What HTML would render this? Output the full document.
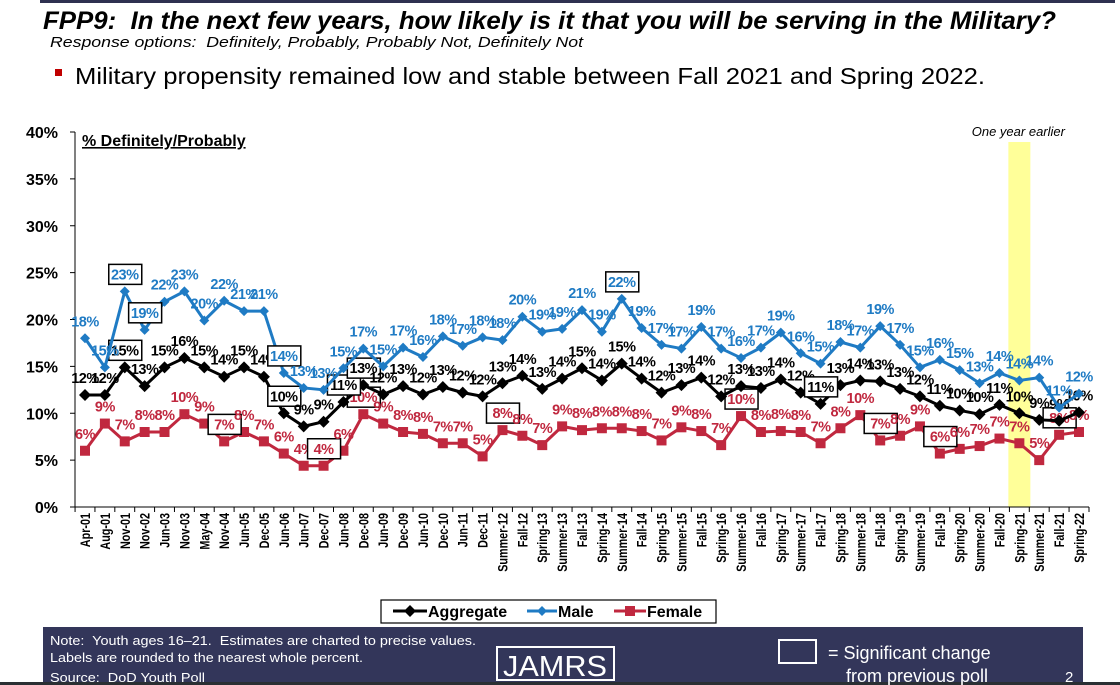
<!DOCTYPE html>
<html><head><meta charset="utf-8"><style>
body{margin:0;background:#fff;}
#wrap{position:relative;width:1120px;height:685px;overflow:hidden;font-family:"Liberation Sans",Arial,sans-serif;}
svg text{white-space:pre;}
</style></head><body>
<div id="wrap">
<svg id="chart" width="1120" height="685" xmlns="http://www.w3.org/2000/svg">
<rect x="40" y="0" width="1075" height="3" fill="#2e3150"/>
<text x="43" y="29" font-size="25" font-weight="bold" font-style="italic" textLength="1013" lengthAdjust="spacingAndGlyphs">FPP9:  In the next few years, how likely is it that you will be serving in the Military?</text>
<text x="50" y="47" font-size="15" font-style="italic" textLength="533" lengthAdjust="spacingAndGlyphs">Response options:  Definitely, Probably, Probably Not, Definitely Not</text>
<rect x="55" y="69" width="7" height="7" fill="#c00000"/>
<text x="75" y="84" font-size="23.5" textLength="910" lengthAdjust="spacingAndGlyphs">Military propensity remained low and stable between Fall 2021 and Spring 2022.</text>
<g id="plot"></g>
<g>
<rect x="381" y="600" width="335" height="23" fill="#fff" stroke="#000" stroke-width="1.2"/>
<line x1="393" y1="611" x2="427" y2="611" stroke="#000" stroke-width="3"/><path d="M410 605 L416 611 L410 617 L404 611Z" fill="#000"/>
<text x="428" y="617" font-size="16" font-weight="bold">Aggregate</text>
<line x1="527" y1="611" x2="557" y2="611" stroke="#1f7bc4" stroke-width="3"/><path d="M542 606 L547 611 L542 616 L537 611Z" fill="#1f7bc4"/>
<text x="558" y="617" font-size="16" font-weight="bold">Male</text>
<line x1="614" y1="611" x2="646" y2="611" stroke="#c0283f" stroke-width="3"/><rect x="625" y="606" width="10" height="10" fill="#c0283f"/>
<text x="647" y="617" font-size="16" font-weight="bold">Female</text>
</g>
<rect x="43" y="627" width="1040" height="58" fill="#33365a"/>
<rect x="0" y="682" width="1120" height="3" fill="#2a2f33"/>
<text x="50" y="645" font-size="13" fill="#fff" textLength="426" lengthAdjust="spacingAndGlyphs">Note:  Youth ages 16–21.  Estimates are charted to precise values.</text>
<text x="50" y="662" font-size="13" fill="#fff" textLength="313" lengthAdjust="spacingAndGlyphs">Labels are rounded to the nearest whole percent.</text>
<text x="50" y="682" font-size="13" fill="#fff" textLength="155" lengthAdjust="spacingAndGlyphs">Source:  DoD Youth Poll</text>
<rect x="497" y="647" width="117" height="33" fill="none" stroke="#fff" stroke-width="2"/>
<text x="555" y="676" font-size="29" fill="#fff" text-anchor="middle" textLength="104" lengthAdjust="spacingAndGlyphs">JAMRS</text>
<rect x="779" y="640" width="37" height="23" fill="none" stroke="#fff" stroke-width="2"/>
<text x="828" y="659" font-size="18" fill="#fff">= Significant change</text>
<text x="846" y="682" font-size="18" fill="#fff">from previous poll</text>
<text x="1065" y="682" font-size="15" fill="#fff">2</text>
</svg>
</div>
<script>
const categories=["Apr-01","Aug-01","Nov-01","Nov-02","Jun-03","Nov-03","May-04","Nov-04","Jun-05","Dec-05","Jun-06","Jun-07","Dec-07","Jun-08","Dec-08","Jun-09","Dec-09","Jun-10","Dec-10","Jun-11","Dec-11","Summer-12","Fall-12","Spring-13","Summer-13","Fall-13","Spring-14","Summer-14","Fall-14","Spring-15","Summer-15","Fall-15","Spring-16","Summer-16","Fall-16","Spring-17","Summer-17","Fall-17","Spring-18","Summer-18","Fall-18","Spring-19","Summer-19","Fall-19","Spring-20","Summer-20","Fall-20","Spring-21","Summer-21","Fall-21","Spring-22"];
const aggregate=[11.95,11.95,14.9,12.9,14.9,15.9,14.9,13.9,14.9,13.9,10.0,8.6,9.1,11.2,13.0,12.0,12.9,12.0,12.8,12.2,11.8,13.2,14.0,12.6,13.7,14.8,13.5,15.3,13.7,12.2,13.0,13.8,11.8,12.9,12.7,13.6,12.2,11.0,13.0,13.5,13.4,12.6,11.8,10.8,10.3,9.9,10.9,10.0,9.3,9.2,10.1];
const male=[18.0,14.9,23.0,18.9,21.9,23.0,19.9,22.0,20.9,20.9,14.3,12.7,12.5,14.8,16.9,15.0,17.0,16.0,18.2,17.2,18.1,17.8,20.3,18.7,19.0,21.0,18.7,22.2,19.1,17.3,16.9,19.2,16.9,15.9,17.0,18.6,16.4,15.3,17.6,17.0,19.3,17.3,14.9,15.7,14.6,13.2,14.3,13.5,13.8,10.6,12.1];
const female=[6.0,8.9,7.0,8.0,8.0,9.9,8.9,7.0,8.0,7.0,5.7,4.4,4.4,6.0,9.9,8.9,8.0,7.8,6.8,6.8,5.4,8.2,7.6,6.6,8.6,8.2,8.4,8.4,8.1,7.1,8.5,8.1,6.6,9.7,8.0,8.1,8.0,6.8,8.4,9.8,7.1,7.6,8.6,5.7,6.2,6.5,7.3,6.8,5.0,7.7,8.0];
const yTicks=[0,5,10,15,20,25,30,35,40];
const sigAggregate=[2,10,13,14,37];
const sigMale=[2,3,10,27];
const sigFemale=[7,12,14,21,33,40,43,49];
const highlightIndex=47;

const NS="http://www.w3.org/2000/svg";
const plot=document.getElementById('plot');
const X0=85,DX=19.88,AX_L=75,AX_R=1089,Y0=507,PY=9.375;
const xS=i=>X0+i*DX;
const yS=v=>Y0-v*PY;
function mk(tag,attrs,parent){const e=document.createElementNS(NS,tag);for(const k in attrs)e.setAttribute(k,attrs[k]);(parent||plot).appendChild(e);return e;}

const band=mk('rect',{x:xS(highlightIndex)-11,y:142,width:22,height:Y0-142,fill:'#ffff99'});


const bt=mk('text',{x:xS(highlightIndex)-1,y:136,'font-size':13,'font-style':'italic','text-anchor':'middle'});
bt.textContent='One year earlier';



const ya=mk('line',{x1:AX_L,y1:yS(40),x2:AX_L,y2:Y0,stroke:'#000','stroke-width':1});


const xa=mk('line',{x1:AX_L,y1:Y0,x2:AX_R,y2:Y0,stroke:'#000','stroke-width':1});


yTicks.forEach(t=>{
  mk('line',{x1:AX_L-5,y1:yS(t),x2:AX_L,y2:yS(t),stroke:'#000'});
  const tx=mk('text',{x:58,y:yS(t)+6,'font-size':16,'font-weight':'bold','text-anchor':'end'});
  tx.textContent=t+'%';
  
  
});
const yt=mk('text',{x:82,y:yS(40)+14,'font-size':16,'font-weight':'bold','text-decoration':'underline'});
yt.textContent='% Definitely/Probably';


categories.forEach((c,i)=>{
  mk('line',{x1:xS(i)-DX/2,y1:Y0,x2:xS(i)-DX/2,y2:Y0+5,stroke:'#000'});
  const tx=mk('text',{x:0,y:0,'font-size':13.5,'font-weight':'bold','text-anchor':'end',transform:`translate(${xS(i)+5},${Y0+6}) rotate(-90) scale(0.8,1)`});
  tx.textContent=c;
  
  
});
mk('line',{x1:AX_R,y1:Y0,x2:AX_R,y2:Y0+5,stroke:'#000'});

function series(vals,color,marker,name,sig,dy){
  const g=mk('g',{});
  
  
  const pl=mk('polyline',{points:vals.map((v,i)=>xS(i)+','+yS(v)).join(' '),fill:'none',stroke:color,'stroke-width':3,'stroke-linejoin':'round'},g);
  
  
  vals.forEach((v,i)=>{
    const x=xS(i),y=yS(v);let m;
    if(marker==='sq') m=mk('rect',{x:x-5,y:y-5,width:10,height:10,fill:color},g);
    else {const r=marker==='big'?6:5;m=mk('path',{d:`M${x} ${y-r}L${x+r} ${y}L${x} ${y+r}L${x-r} ${y}Z`,fill:color},g);}
    
    
  });
  vals.forEach((v,i)=>{
    const x=xS(i),y=yS(v)+dy;
    const lab=Math.round(v)+'%';
    if(sig.includes(i)){
      const b=mk('rect',{x:x-16,y:y-15,width:33,height:20,fill:'#fff',stroke:'#000','stroke-width':1.5},g);
      
      
    }
    const t=mk('text',{x:x,y:y,'font-size':14.5,'font-weight':'bold','text-anchor':'middle',fill:color,'letter-spacing':'-0.5'},g);
    t.textContent=lab;
    
    
  });
}
series(female,'#c0283f','sq','female',sigFemale,-12);
series(aggregate,'#000','big','aggregate',sigAggregate,-12);
series(male,'#1f7bc4','dia','male',sigMale,-12);
</script>
</body></html>
